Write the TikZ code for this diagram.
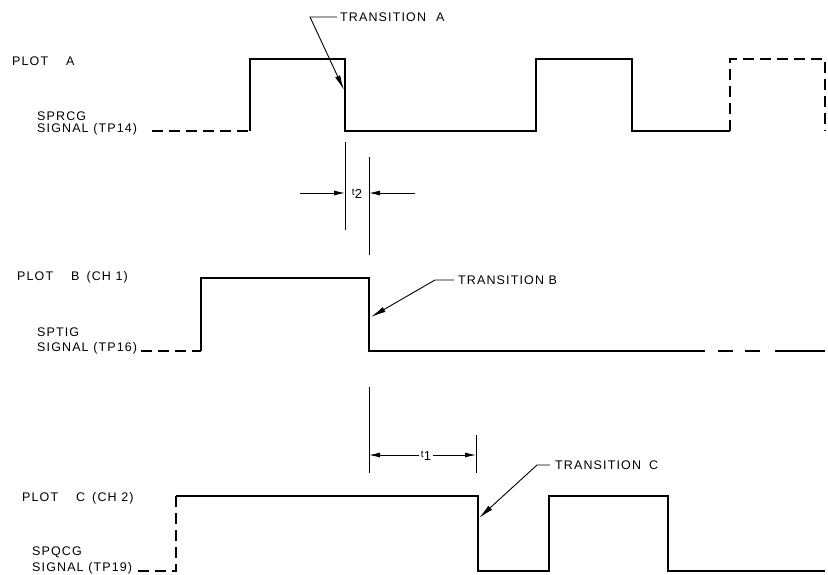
\documentclass[tikz,border=0pt]{standalone}
\usepackage{fontspec}
\setmainfont{Liberation Sans}[LetterSpace=9]
\usetikzlibrary{arrows.meta}
\begin{document}
\begin{tikzpicture}[x=1pt,y=-1pt,
  sig/.style={line width=1.8pt, line join=miter},
  sigdash/.style={sig, dash pattern=on 11pt off 6pt},
  dimline/.style={line width=0.9pt},
  dimarrow/.style={line width=0.9pt, -{Latex[length=11pt,width=5pt]}},
  lead/.style={line width=0.9pt, -{Latex[length=15pt,width=5.5pt]}},
  lbl/.style={inner sep=0pt, anchor=west, font=\fontsize{12.5}{14}\selectfont},
  tlbl/.style={inner sep=0pt, font=\fontsize{13}{14}\selectfont}]
\useasboundingbox (0,0) rectangle (828,574);

% ---------- Plot A ----------
\node[lbl] (plotA) at (12,61) {PLOT\hspace{18pt}A};
\node[lbl] (sprcg) at (37,116) {SPRCG};
\node[lbl] (sigA) at (37,129) {SIGNAL (TP14)};
\draw[sigdash] (152,131) -- (250,131);
\draw[sig] (250,131) -- (250,59) -- (345,59) -- (345,131) -- (536,131) -- (536,59) -- (632,59) -- (632,131) -- (730,131);
\draw[sigdash] (730,131) -- (730,59) -- (825,59) -- (825,131);

\node[lbl] (trA) at (340,17) {TRANSITION\hspace{10pt}A};
\coordinate (tipA) at (344,90);
\draw[lead] ([xshift=-3pt]trA.west) -- ++(-27,0) -- (tipA);

% ---------- t2 ----------
\coordinate (t2a) at (345,142);
\coordinate (t2b) at (369,157);
\draw[dimline] (t2a) -- (345,230);
\draw[dimline] (t2b) -- (369,255);
\node[tlbl] (t2) at (357,194) {\raisebox{3pt}{\fontsize{10}{10}\selectfont t}2};
\coordinate (t2l) at (300,193);
\coordinate (t2r) at (415,193);
\draw[dimarrow] (t2l) -- (345,193);
\draw[dimarrow] (t2r) -- (369,193);

% ---------- Plot B ----------
\node[lbl] (plotB) at (17,277) {PLOT\hspace{18pt}B\hspace{7pt}(CH 1)};
\node[lbl] (sptig) at (37,332) {SPTIG};
\node[lbl] (sigB) at (37,348) {SIGNAL (TP16)};
\draw[sigdash] (141,351) -- (201,351);
\draw[sig] (201,351) -- (201,278) -- (369,278) -- (369,351) -- (705,351);
\draw[sig] (718,351) -- (733,351);
\draw[sig] (745,351) -- (760,351);
\draw[sig] (775,351) -- (825,351);

\node[lbl] (trB) at (458,280) {TRANSITION B};
\coordinate (tipB) at (371,317);
\draw[lead] ([xshift=-4pt]trB.west) -- ++(-19,0) -- (tipB);

% ---------- t1 ----------
\draw[dimline] (369,387) -- (369,473);
\draw[dimline] (476,435) -- (476,473);
\node[tlbl] (t1) at (426,456) {\raisebox{3pt}{\fontsize{10}{10}\selectfont t}1};
\draw[dimarrow] (t1.west) ++(-2,-1) -- (369,455);
\draw[dimarrow] (t1.east) ++(2,-1) -- (476,455);

% ---------- Plot C ----------
\node[lbl] (plotC) at (22,498) {PLOT\hspace{18pt}C\hspace{7pt}(CH 2)};
\node[lbl] (spqcg) at (32,552) {SPQCG};
\node[lbl] (sigC) at (32,568) {SIGNAL (TP19)};
\draw[sigdash] (138,571) -- (176,571) -- (176,496);
\draw[sig] (176,496) -- (478,496) -- (478,571) -- (549,571) -- (549,496) -- (668,496) -- (668,571) -- (825,571);

\node[lbl] (trC) at (555,465) {TRANSITION\hspace{8pt}C};
\coordinate (tipC) at (479,518);
\draw[lead] ([xshift=-5pt]trC.west) -- ++(-13,0) -- (tipC);
\end{tikzpicture}
\end{document}
